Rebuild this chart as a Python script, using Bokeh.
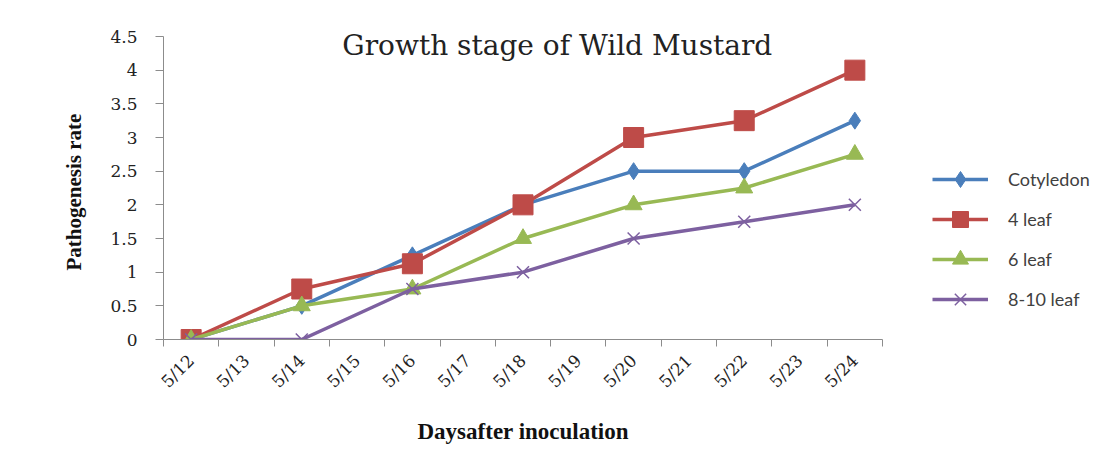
from math import pi
from bokeh.plotting import figure
from bokeh.models import Range1d, FixedTicker, Legend, LegendItem, Label, Title
from bokeh.embed import file_html
from bokeh.resources import INLINE

# ---- data ----
days = ["5/12", "5/13", "5/14", "5/15", "5/16", "5/17", "5/18",
        "5/19", "5/20", "5/21", "5/22", "5/23", "5/24"]
obs_days = ["5/12", "5/14", "5/16", "5/18", "5/20", "5/22", "5/24"]
cotyledon = [0, 0.5, 1.25, 2, 2.5, 2.5, 3.25]
leaf4 = [0, 0.75, 1.125, 2, 3, 3.25, 4]
leaf6 = [0, 0.5, 0.75, 1.5, 2, 2.25, 2.75]
leaf8_10 = [0, 0, 0.75, 1, 1.5, 1.75, 2]
series_names = ["Cotyledon", "4 leaf", "6 leaf", "8-10 leaf"]
y_ticks = [0, 0.5, 1, 1.5, 2, 2.5, 3, 3.5, 4, 4.5]
y_max = 4.5

# ---- styles / layout ----
colors = ["#4A7EBB", "#BE4B48", "#98B954", "#7D60A0"]
markers = ["diamond", "square", "triangle", "x"]
msizes = [17, 20, 17, 17]
SERIF = "DejaVu Serif"
BSERIF = "Liberation Serif"
W, H = 1091, 460
LEFT, TOP, BOTTOM = 163, 10, 121
AXIS_PX = 719          # pixel length of the category axis
AXIS_PY = 303          # pixel height of the value axis
frame_w = W - LEFT     # frame extends to the right edge to host the legend
frame_h = H - TOP - BOTTOM

pos = {d: i + 0.5 for i, d in enumerate(days)}
xs = [pos[d] for d in obs_days]
x_end = len(days) * frame_w / AXIS_PX
y_end = y_max * frame_h / AXIS_PY

p = figure(width=W, height=H, output_backend="svg", toolbar_location=None,
           x_range=Range1d(0, x_end), y_range=Range1d(0, y_end),
           min_border_left=LEFT, min_border_right=0, min_border_top=TOP,
           min_border_bottom=BOTTOM)
p.outline_line_color = None
p.xgrid.visible = False
p.ygrid.visible = False

renderers = []
for vals, c, m, s in zip([cotyledon, leaf4, leaf6, leaf8_10], colors, markers, msizes):
    l = p.line(xs, vals, line_color=c, line_width=3.5)
    if m == "x":
        g = p.scatter(xs, vals, marker=m, size=s, line_color=c, line_width=1.5, fill_color=c)
    else:
        g = p.scatter(xs, vals, marker=m, size=s, line_color=c, fill_color=c)
    renderers.append([l, g])

# axes
xa = p.xaxis[0]
xa.bounds = (0, len(days))
xa.ticker = FixedTicker(ticks=[pos[d] for d in days], minor_ticks=list(range(len(days) + 1)))
xa.major_label_overrides = {pos[d]: d for d in days}
xa.major_label_orientation = pi / 4
xa.major_tick_out = 0
xa.major_tick_in = 0
xa.minor_tick_out = 7
xa.minor_tick_in = 0
xa.axis_line_color = "#8c8c8c"
xa.minor_tick_line_color = "#8c8c8c"
xa.major_label_text_font = SERIF
xa.major_label_text_font_size = "17px"
xa.major_label_text_color = "#222222"
xa.major_label_standoff = 11

p.add_layout(Title(text="Daysafter inoculation", align="left", offset=254, standoff=30,
                   text_font=BSERIF, text_font_style="bold", text_font_size="23px",
                   text_color="#111111"), "below")

ya = p.yaxis[0]
ya.bounds = (0, y_max)
ya.ticker = FixedTicker(ticks=y_ticks)
ya.major_label_overrides = {t: ("%g" % t) for t in y_ticks}
ya.major_tick_out = 8
ya.major_tick_in = 0
ya.minor_tick_out = 0
ya.minor_tick_in = 0
ya.axis_line_color = "#8c8c8c"
ya.major_tick_line_color = "#8c8c8c"
ya.major_label_text_font = SERIF
ya.major_label_text_font_size = "17px"
ya.major_label_text_color = "#222222"
ya.major_label_standoff = 18

p.add_layout(Title(text="Pathogenesis rate", align="left", offset=69, standoff=44,
                   text_font=BSERIF, text_font_style="bold", text_font_size="21px",
                   text_color="#111111"), "left")

# chart title inside the plot area
p.add_layout(Label(x=7.12, y=4.37, text="Growth stage of Wild Mustard",
                   text_font=SERIF, text_font_size="28px", text_color="#222222",
                   text_align="center", text_baseline="middle"))

legend = Legend(items=[LegendItem(label=n, renderers=r) for n, r in zip(series_names, renderers)],
                location=(769, 20), padding=0, margin=0, spacing=0,
                glyph_width=56, glyph_height=40, label_height=40, label_standoff=20,
                label_text_font="Lato", label_text_font_size="18px",
                label_text_color="#404040", border_line_color=None,
                background_fill_alpha=0)
p.add_layout(legend, "center")

open("out.html", "w").write(file_html(p, INLINE))
